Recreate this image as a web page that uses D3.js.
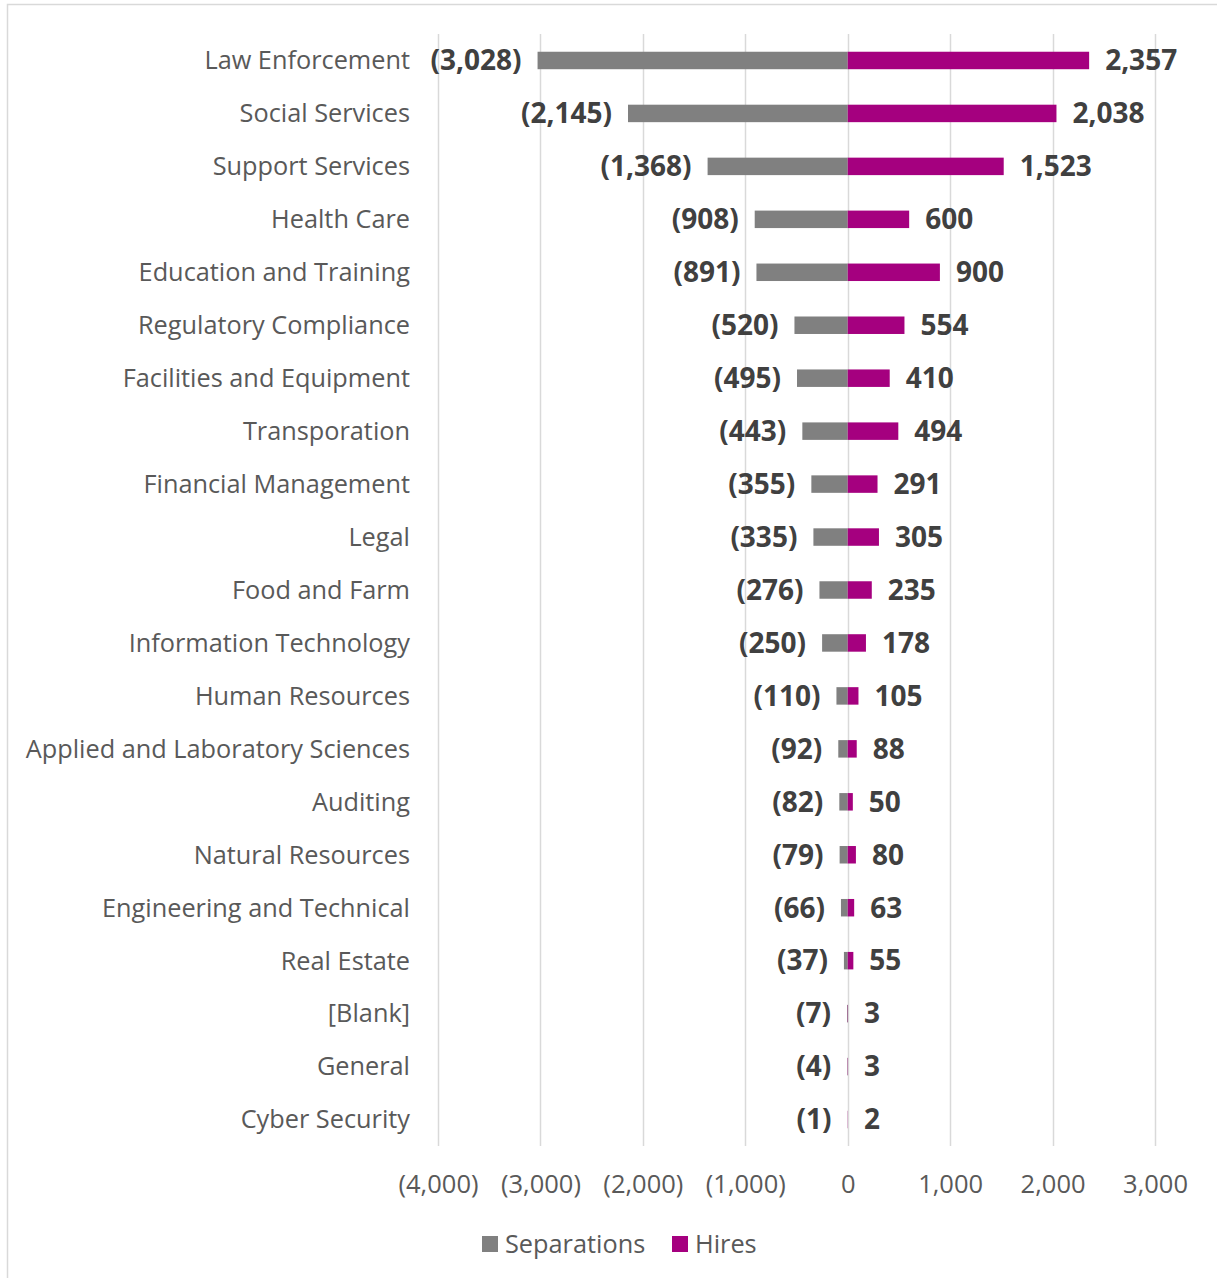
<!DOCTYPE html>
<html>
<head>
<meta charset="utf-8">
<script src="https://cdn.jsdelivr.net/npm/d3@7"></script>
<style>
  html, body { margin: 0; padding: 0; background: #fff; }
  svg { display: block; }
  text { font-family: "Open Sans", Lato, sans-serif; }
</style>
</head>
<body>
<svg id="chart" width="1217" height="1278"></svg>
<script>
// Job families, top to bottom
const categories = [
  "Law Enforcement", "Social Services", "Support Services", "Health Care",
  "Education and Training", "Regulatory Compliance", "Facilities and Equipment",
  "Transporation", "Financial Management", "Legal", "Food and Farm",
  "Information Technology", "Human Resources", "Applied and Laboratory Sciences",
  "Auditing", "Natural Resources", "Engineering and Technical", "Real Estate",
  "[Blank]", "General", "Cyber Security"
];
// Separations are plotted to the left of zero
const separations = [-3028, -2145, -1368, -908, -891, -520, -495, -443, -355, -335,
  -276, -250, -110, -92, -82, -79, -66, -37, -7, -4, -1];
const hires = [2357, 2038, 1523, 600, 900, 554, 410, 494, 291, 305,
  235, 178, 105, 88, 50, 80, 63, 55, 3, 3, 2];
const tickValues = [-4000, -3000, -2000, -1000, 0, 1000, 2000, 3000];
const seriesNames = ["Separations", "Hires"];
const seriesColors = ["#808080", "#A5007F"];

const svg = d3.select("#chart");

// Chart frame
svg.append("path")
  .attr("d", "M7.5,1278 V4.5 H1217")
  .attr("fill", "none")
  .attr("stroke", "#d9d9d9")
  .attr("stroke-width", 1.5);

const x = d3.scaleLinear().domain([-4000, 3000]).range([438, 1155]);
const y = d3.scaleBand().domain(categories).range([34, 1146]).paddingInner(0.67).paddingOuter(0.335);

const plotTop = 34, plotBottom = 1146;

// Vertical gridlines
svg.append("g")
  .selectAll("line")
  .data(tickValues)
  .join("line")
  .attr("x1", d => Math.round(x(d)) + 0.5)
  .attr("x2", d => Math.round(x(d)) + 0.5)
  .attr("y1", plotTop)
  .attr("y2", plotBottom)
  .attr("stroke", "#d9d9d9")
  .attr("stroke-width", 1.5);

// Axis tick labels with accounting-style negatives
const fmt = d3.format(",");
const tickFmt = d => d < 0 ? "(" + fmt(-d) + ")" : fmt(d);
const axis = d3.axisBottom(x).tickValues(tickValues).tickFormat(tickFmt).tickSize(0).tickPadding(0);
const axisG = svg.append("g").attr("transform", `translate(0, 1175)`).call(axis);
axisG.select(".domain").remove();
axisG.selectAll("text")
  .attr("font-size", 25.5)
  .attr("fill", "#595959")
  .attr("font-family", "'Open Sans', sans-serif");

const rows = categories.map((c, i) => ({ c, s: separations[i], h: hires[i] }));

// Separation bars
svg.append("g")
  .selectAll("rect")
  .data(rows)
  .join("rect")
  .attr("x", d => x(d.s))
  .attr("width", d => x(0) - x(d.s))
  .attr("y", d => y(d.c))
  .attr("height", y.bandwidth())
  .attr("fill", seriesColors[0]);

// Hire bars
svg.append("g")
  .selectAll("rect")
  .data(rows)
  .join("rect")
  .attr("x", x(0))
  .attr("width", d => x(d.h) - x(0))
  .attr("y", d => y(d.c))
  .attr("height", y.bandwidth())
  .attr("fill", seriesColors[1]);

const mid = d => y(d.c) + y.bandwidth() / 2;

// Category labels
svg.append("g")
  .selectAll("text")
  .data(rows)
  .join("text")
  .attr("x", 410)
  .attr("y", mid)
  .attr("dy", "0.35em")
  .attr("text-anchor", "end")
  .attr("font-size", 25.3)
  .attr("fill", "#595959")
  .text(d => d.c);

// Value labels
svg.append("g")
  .selectAll("text")
  .data(rows)
  .join("text")
  .attr("x", d => x(d.s) - 16)
  .attr("y", mid)
  .attr("dy", "0.35em")
  .attr("text-anchor", "end")
  .attr("font-size", 28)
  .attr("font-weight", "bold")
  .attr("fill", "#404040")
  .text(d => tickFmt(d.s));

svg.append("g")
  .selectAll("text")
  .data(rows)
  .join("text")
  .attr("x", d => x(d.h) + 16)
  .attr("y", mid)
  .attr("dy", "0.35em")
  .attr("text-anchor", "start")
  .attr("font-size", 28)
  .attr("font-weight", "bold")
  .attr("fill", "#404040")
  .text(d => fmt(d.h));

// Legend
const legend = svg.append("g").attr("transform", "translate(482, 1244)");
const legendX = [0, 190];
seriesNames.forEach((name, i) => {
  const g = legend.append("g").attr("transform", `translate(${legendX[i]}, 0)`);
  g.append("rect").attr("x", 0).attr("y", -8).attr("width", 16).attr("height", 16).attr("fill", seriesColors[i]);
  g.append("text").attr("x", 23).attr("y", 0).attr("dy", "0.35em")
    .attr("font-size", 25.3).attr("fill", "#595959").text(name);
});
</script>
</body>
</html>
